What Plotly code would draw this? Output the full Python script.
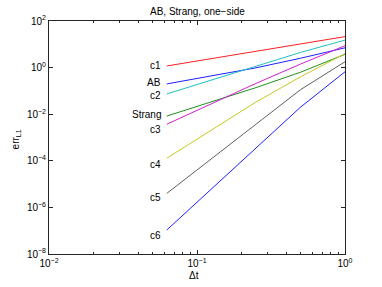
import plotly.graph_objects as go
import numpy as np

dt = [1/16, 1/8, 1/4, 1/2, 1]
names = ["c1", "AB", "c2", "Strang", "c3", "c4", "c5", "c6"]
log_err = {
    "c1":     [0.07, 0.38, 0.68, 1.00, 1.33],
    "AB":     [-0.70, -0.36, -0.01, 0.40, 0.85],
    "c2":     [-1.13, -0.53, 0.07, 0.65, 1.18],
    "Strang": [-2.08, -1.47, -0.86, -0.20, 0.57],
    "c3":     [-2.43, -1.55, -0.68, 0.15, 0.94],
    "c4":     [-3.89, -2.68, -1.48, -0.40, 0.60],
    "c5":     [-5.40, -3.93, -2.45, -0.95, 0.25],
    "c6":     [-6.97, -5.20, -3.43, -1.70, -0.18],
}
colors = {
    "c1": "#ff2020", "AB": "#2020ff", "c2": "#20c0c0", "Strang": "#209020",
    "c3": "#d020d0", "c4": "#c8c820", "c5": "#606060", "c6": "#2020ff",
}
label_log_y = {
    "c1": 0.07, "AB": -0.65, "c2": -1.18, "Strang": -2.02,
    "c3": -2.65, "c4": -4.14, "c5": -5.58, "c6": -7.21,
}
label_x = 0.0588

xticks = [1e-2, 1e-1, 1e0]
xticktext = ["10<sup>−2</sup>", "10<sup>−1</sup>", "10<sup>0</sup>"]
yticks = [1e-8, 1e-6, 1e-4, 1e-2, 1e0, 1e2]
yticktext = ["10<sup>−8</sup>", "10<sup>−6</sup>", "10<sup>−4</sup>", "10<sup>−2</sup>", "10<sup>0</sup>", "10<sup>2</sup>"]
xminor = [m * 10.0**e for e in (-2, -1) for m in range(2, 10)]

title_text = "AB, Strang, one−side"
xlabel = "Δt"
ylabel = "err<sub>L1</sub>"

fig = go.Figure()
for n in names:
    fig.add_trace(go.Scatter(x=dt, y=[10**v for v in log_err[n]], mode="lines",
                             line=dict(color=colors[n], width=1), showlegend=False,
                             hoverinfo="skip"))
    fig.add_annotation(x=np.log10(label_x), y=label_log_y[n], text=n, showarrow=False,
                       xanchor="right", yanchor="middle",
                       font=dict(size=10, color="black", family="Liberation Sans"))

axis_common = dict(type="log", showgrid=False, zeroline=False, showline=True,
                   linecolor="#262626", linewidth=1, mirror="ticks", ticks="inside",
                   ticklen=4, tickcolor="#262626", tickfont=dict(size=10, color="black"),
                   automargin=False)
fig.update_xaxes(range=[-2, 0], tickmode="array", tickvals=xticks, ticktext=xticktext,
                 minor=dict(tickmode="array", tickvals=xminor, ticks="inside", ticklen=2,
                            tickcolor="#262626", showgrid=False),
                 **axis_common)
fig.update_yaxes(range=[-8, 2], tickmode="array", tickvals=yticks, ticktext=yticktext,
                 **axis_common)

# plot area: x 49..345, y 21..254 px
fig.add_annotation(xref="paper", yref="paper", x=0.5, y=1.04, text=title_text,
                   showarrow=False, xanchor="center", yanchor="middle", font=dict(size=10))
fig.add_annotation(xref="paper", yref="paper", x=0.49, y=-0.094, text=xlabel,
                   showarrow=False, xanchor="center", yanchor="middle", font=dict(size=10))
fig.add_annotation(xref="paper", yref="paper", x=-0.113, y=0.49, text=ylabel, textangle=-90,
                   showarrow=False, xanchor="center", yanchor="middle", font=dict(size=10))

fig.update_layout(
    width=382, height=287,
    margin=dict(l=49, r=37, t=21, b=33),
    plot_bgcolor="white", paper_bgcolor="white",
    font=dict(family="Liberation Sans", size=10, color="black"),
    hovermode=False,
)
fig.write_html("out.html", config={"displayModeBar": False},
               post_script="document.body.style.margin='0px';")
